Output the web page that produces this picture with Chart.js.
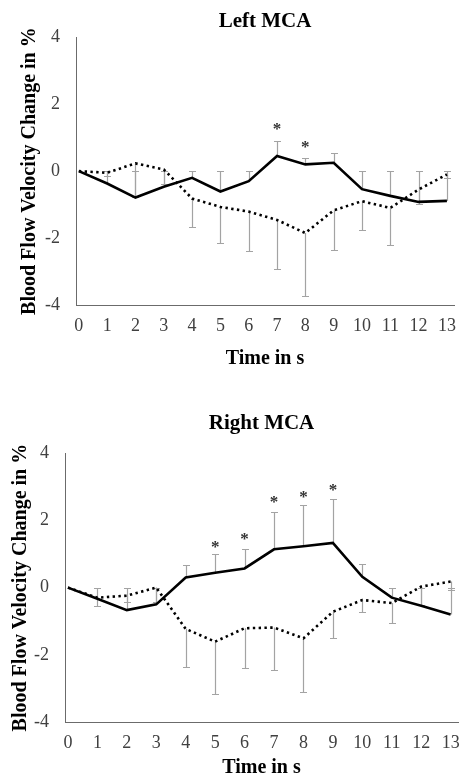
<!DOCTYPE html>
<html>
<head>
<meta charset="utf-8">
<script src="https://cdn.jsdelivr.net/npm/chart.js@4.4.1/dist/chart.umd.min.js"></script>
<style>
  html, body { margin: 0; padding: 0; background: #fff; }
  .box { position: absolute; left: 0; width: 461px; }
  #topBox { top: 0; height: 372px; }
  #bottomBox { top: 380px; height: 400px; }
</style>
</head>
<body>
<div class="box" id="topBox"><canvas id="leftChart"></canvas></div>
<div class="box" id="bottomBox"><canvas id="rightChart"></canvas></div>
<script>
// time axis (s) and value ticks (%)
const timeLabels = [0, 1, 2, 3, 4, 5, 6, 7, 8, 9, 10, 11, 12, 13];
const yTicks = [-4, -2, 0, 2, 4];

// Left MCA
const leftSolid     = [0, -0.37, -0.79, -0.47, -0.2, -0.61, -0.3, 0.45, 0.2, 0.25, -0.54, -0.74, -0.92, -0.89];
const leftSolidErr  = [0, 0.37, 0.79, 0.47, 0.2, 0.61, 0.3, 0.46, 0.2, 0.3, 0.54, 0.74, 0.92, 0.89];
const leftDotted    = [0, -0.05, 0.23, 0.05, -0.82, -1.07, -1.21, -1.46, -1.85, -1.17, -0.9, -1.1, -0.55, -0.1];
const leftDottedErr = [0, 0.1, 1.0, 0.45, 0.84, 1.08, 1.17, 1.46, 1.89, 1.19, 0.86, 1.11, 0.43, 0.1];
const leftStarTimes  = [7, 8];
const leftStarValues = [1.35, 0.8];

// Right MCA
const rightSolid     = [0, -0.33, -0.67, -0.5, 0.3, 0.44, 0.57, 1.14, 1.23, 1.33, 0.32, -0.3, -0.54, -0.8];
const rightSolidErr  = [0, 0.33, 0.67, 0.5, 0.37, 0.55, 0.58, 1.1, 1.22, 1.32, 0.39, 0.3, 0.54, 0.8];
const rightDotted    = [0, -0.3, -0.24, 0, -1.23, -1.61, -1.21, -1.19, -1.51, -0.72, -0.37, -0.46, 0.03, 0.18];
const rightDottedErr = [0, 0.26, 0.2, 0.44, 1.12, 1.55, 1.19, 1.25, 1.6, 0.79, 0.37, 0.58, 0.56, 0.24];
const rightStarTimes  = [5, 6, 7, 8, 9];
const rightStarValues = [1.3, 1.53, 2.63, 2.8, 3.0];

const SERIF = "'Liberation Serif', 'Times New Roman', serif";

const toPoints = (vals) => vals.map((v, i) => ({ x: timeLabels[i], y: v }));

// vertical error bars with caps, solid ones go up, dotted ones go down
const errorBarPlugin = {
  id: 'errorBars',
  beforeDatasetsDraw(chart) {
    const { ctx, scales: { x, y } } = chart;
    ctx.save();
    ctx.strokeStyle = '#a3a3a3';
    ctx.lineWidth = 1.2;
    chart.data.datasets.forEach(ds => {
      if (!ds.errors) return;
      ds.data.forEach((p, i) => {
        const e = ds.errors[i];
        if (!e) return;
        const end = ds.errorDir === 'up' ? p.y + e : p.y - e;
        const px = Math.round(x.getPixelForValue(p.x)) + 0.5;
        const y0 = y.getPixelForValue(p.y);
        const y1 = Math.round(y.getPixelForValue(end)) + 0.5;
        ctx.beginPath();
        ctx.moveTo(px, y0);
        ctx.lineTo(px, y1);
        ctx.moveTo(px - 3.5, y1);
        ctx.lineTo(px + 3.5, y1);
        ctx.stroke();
      });
    });
    ctx.restore();
  }
};

// significance asterisks
const starPlugin = {
  id: 'stars',
  afterDatasetsDraw(chart, args, opts) {
    const { ctx, scales: { x, y } } = chart;
    ctx.save();
    ctx.fillStyle = '#333';
    ctx.font = 'bold 17px ' + SERIF;
    ctx.textAlign = 'center';
    ctx.textBaseline = 'alphabetic';
    (opts.times || []).forEach((t, i) => {
      ctx.fillText('*', x.getPixelForValue(t), y.getPixelForValue(opts.values[i]) + 8);
    });
    ctx.restore();
  }
};

function buildChart(id, cfg) {
  return new Chart(document.getElementById(id), {
    type: 'line',
    data: {
      datasets: [
        { data: toPoints(cfg.solid), errors: cfg.solidErr, errorDir: 'up',
          borderColor: '#000', borderWidth: 2.6, pointRadius: 0, tension: 0 },
        { data: toPoints(cfg.dotted), errors: cfg.dottedErr, errorDir: 'down',
          borderColor: '#000', borderWidth: 2.6, borderDash: [2.4, 3.4], pointRadius: 0, tension: 0 }
      ]
    },
    options: {
      responsive: true,
      maintainAspectRatio: false,
      animation: false,
      layout: { padding: { left: 0, right: cfg.padRight, top: 0, bottom: 0 } },
      plugins: {
        legend: { display: false },
        tooltip: { enabled: false },
        title: {
          display: true, text: cfg.title, fullSize: false, color: '#000',
          font: { family: SERIF, size: 21, weight: 'bold' },
          padding: { top: cfg.titleTop, bottom: cfg.titleBottom }
        },
        stars: { times: cfg.starTimes, values: cfg.starValues }
      },
      scales: {
        x: {
          type: 'linear', min: cfg.xMin, max: cfg.xMax,
          afterBuildTicks: s => { s.ticks = timeLabels.map(v => ({ value: v })); },
          afterFit: s => { s.height = cfg.xAxisHeight; s.paddingLeft = 0; s.paddingRight = 0; },
          grid: { display: false, drawTicks: false },
          border: { color: '#6b6b6b', width: 1 },
          ticks: { color: '#404040', font: { family: SERIF, size: 18 }, padding: 10, maxRotation: 0, autoSkip: false },
          title: { display: true, text: 'Time in s', color: '#000',
                   font: { family: SERIF, size: 20, weight: 'bold' }, padding: { top: 0, bottom: cfg.xTitleBottom } }
        },
        y: {
          min: -4, max: 4,
          afterBuildTicks: s => { s.ticks = yTicks.map(v => ({ value: v })); },
          afterFit: s => { s.width = cfg.yAxisWidth; },
          grid: { display: false, drawTicks: false },
          border: { color: '#6b6b6b', width: 1 },
          ticks: { color: '#404040', font: { family: SERIF, size: 18 }, padding: 16 },
          title: { display: true, text: 'Blood Flow Velocity Change in %', color: '#000',
                   font: { family: SERIF, size: 20, weight: 'bold' }, padding: { top: cfg.yTitleTop, bottom: 0 } }
        }
      }
    },
    plugins: [errorBarPlugin, starPlugin]
  });
}

buildChart('leftChart', {
  title: 'Left MCA', solid: leftSolid, solidErr: leftSolidErr, dotted: leftDotted, dottedErr: leftDottedErr,
  starTimes: leftStarTimes, starValues: leftStarValues,
  xMin: -0.1, xMax: 13.25, padRight: 7, yAxisWidth: 76, xAxisHeight: 67,
  titleTop: 9, titleBottom: 3, xTitleBottom: 1, yTitleTop: 18
});

buildChart('rightChart', {
  title: 'Right MCA', solid: rightSolid, solidErr: rightSolidErr, dotted: rightDotted, dottedErr: rightDottedErr,
  starTimes: rightStarTimes, starValues: rightStarValues,
  xMin: -0.1, xMax: 13.25, padRight: 3, yAxisWidth: 65, xAxisHeight: 58,
  titleTop: 31, titleBottom: 17, xTitleBottom: 0, yTitleTop: 9
});
</script>
</body>
</html>
